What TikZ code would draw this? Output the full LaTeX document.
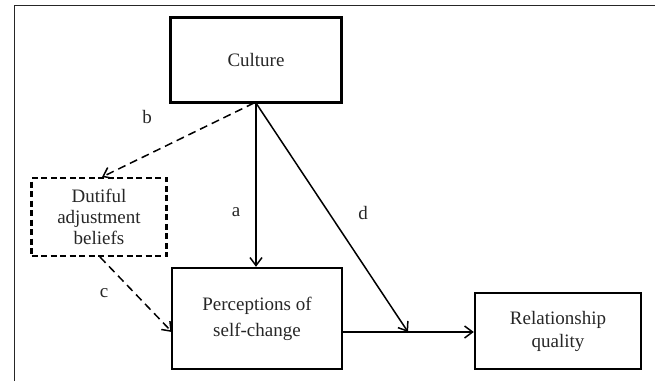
\documentclass[tikz,border=0pt]{standalone}
\usepackage{fontspec}
\setmainfont{Liberation Serif}
\usetikzlibrary{arrows.meta}
\begin{document}
\begin{tikzpicture}[x=1pt,y=-1pt,
  boxstyle/.style={draw=black, line width=2.4pt, inner sep=0pt, align=center,
    font=\fontsize{19}{22}\selectfont, text=black!85},
  conn/.style={line width=1.5pt, draw=black, -{Straight Barb[length=8pt,width=12pt,line width=1.5pt]}},
  dconn/.style={conn, dash pattern=on 8pt off 5pt},
  lbl/.style={font=\fontsize{19}{22}\selectfont, text=black!85, inner sep=0pt}]
\useasboundingbox (0,0) rectangle (655,381);
\draw[line width=1pt, black!85] (14,381) -- (14,5) -- (655,5);
\node[boxstyle, minimum width=171pt, minimum height=85pt] (cul) at (256,60) {Culture};
\node[boxstyle, minimum width=135pt, minimum height=78pt, dash pattern=on 6pt off 3.5pt] (dut) at (99,217)
  {Dutiful\\[-1pt]adjustment\\[-1pt]beliefs};
\node[boxstyle, minimum width=170pt, minimum height=101pt, font=\fontsize{19}{26}\selectfont] (per) at (257,318.5)
  {Perceptions of\\self-change};
\node[boxstyle, minimum width=166pt, minimum height=76pt, font=\fontsize{19}{23}\selectfont] (rel) at (558,331)
  {Relationship\\quality};
\coordinate (top) at (256,103);
\coordinate (j) at (408,332);
\draw[conn] (top) -- (per.north -| top);
\draw[conn] (top) -- (j);
\draw[line width=1.5pt, draw=black] (per.east |- j) -- (j);
\draw[conn] (j) -- (rel.west |- j);
\draw[dconn] (254,103) -- (102,177);
\draw[dconn] (100,257) -- (172,332);
\node[lbl] (la) at (236,212) {a};
\node[lbl] (lb) at (147,117) {b};
\node[lbl] (lc) at (104,293) {c};
\node[lbl] (ld) at (363,213) {d};
\end{tikzpicture}
\end{document}
